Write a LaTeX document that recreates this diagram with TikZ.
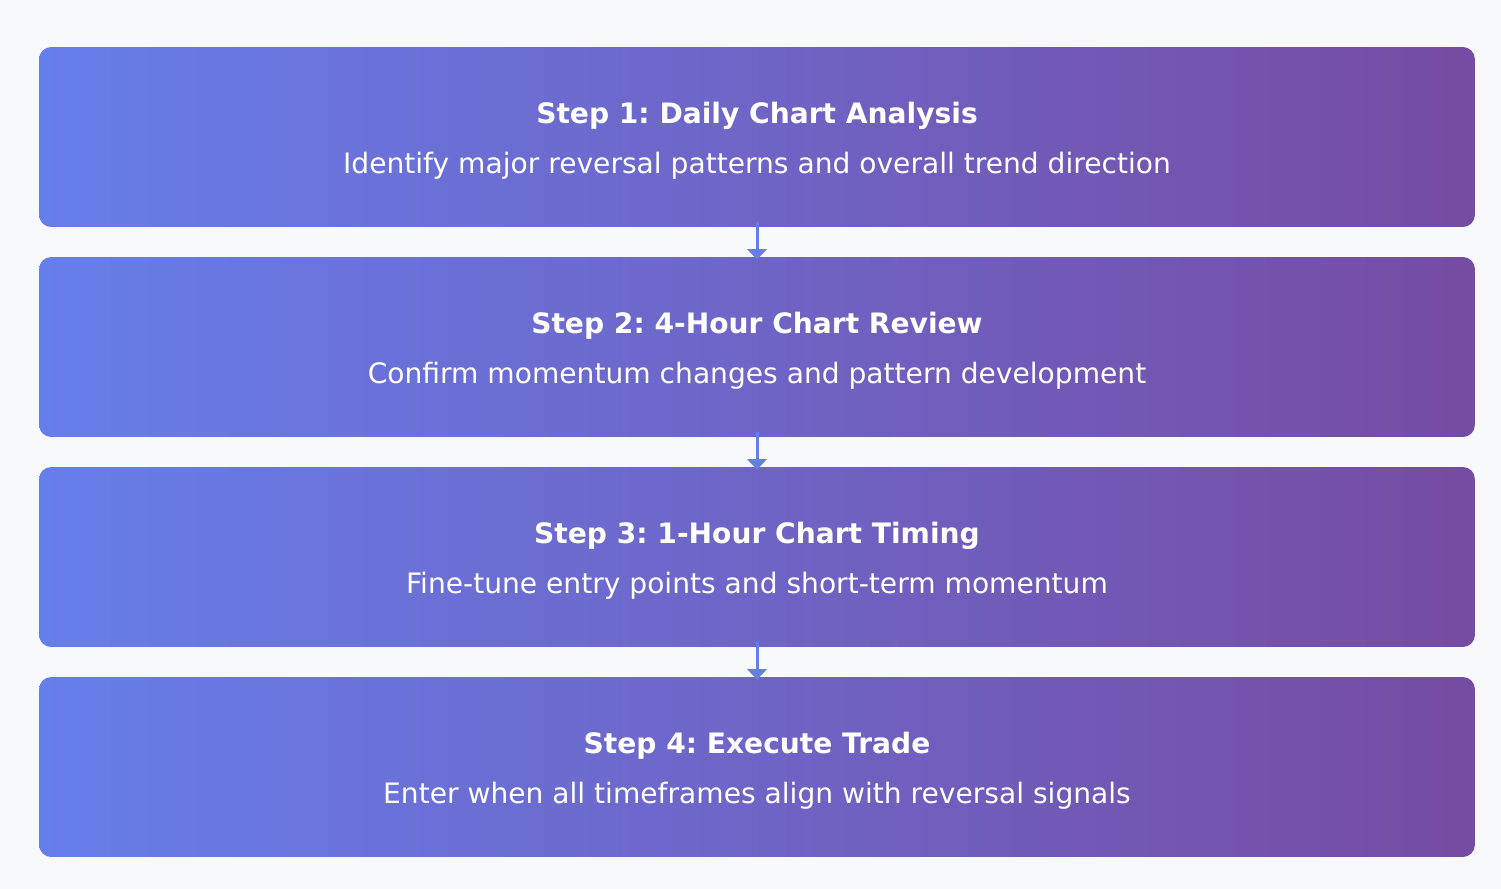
\documentclass[tikz,border=0pt]{standalone}
\usepackage{fontspec}
\setmainfont{DejaVu Sans}
\usetikzlibrary{arrows.meta}
\frenchspacing
\definecolor{pagebg}{HTML}{F8F9FC}
\definecolor{gradA}{HTML}{667EEA}
\definecolor{gradB}{HTML}{764BA2}
\tikzset{
  stepbox/.style={rounded corners=0.24cm,left color=gradA,right color=gradB,
    minimum width=28.72cm,minimum height=3.6cm,text=white,align=center,inner sep=0pt,
    font=\fontsize{16}{28.5}\selectfont},
  flowarrow/.style={draw=gradA,line width=1.7pt,-{Triangle[length=6pt,width=11pt]}}
}
\newcommand{\steptitle}[1]{{\fontsize{16}{28.5}\selectfont\bfseries\rule{0pt}{16pt}#1}}
\begin{document}
\begin{tikzpicture}[x=0.02cm,y=-0.02cm]
	\fill[pagebg] (0,0) rectangle (1501,889);
	\useasboundingbox (0,0) rectangle (1501,889);
	\node[stepbox] (s1) at (757,137) {\steptitle{Step 1: Daily Chart Analysis}\\Identify major reversal patterns and overall trend direction};
	\node[stepbox] (s2) at (757,347) {\steptitle{Step 2: 4-Hour Chart Review}\\Confirm momentum changes and pattern development};
	\node[stepbox] (s3) at (757,557) {\steptitle{Step 3: 1-Hour Chart Timing}\\Fine-tune entry points and short-term momentum};
	\node[stepbox] (s4) at (757,767) {\steptitle{Step 4: Execute Trade}\\Enter when all timeframes align with reversal signals};
	% arrows between the steps
	\draw[flowarrow] ([yshift=0.1cm]s1.south) -- ([yshift=-0.06cm]s2.north);
	\draw[flowarrow] ([yshift=0.1cm]s2.south) -- ([yshift=-0.06cm]s3.north);
	\draw[flowarrow] ([yshift=0.1cm]s3.south) -- ([yshift=-0.06cm]s4.north);
\end{tikzpicture}
\end{document}
